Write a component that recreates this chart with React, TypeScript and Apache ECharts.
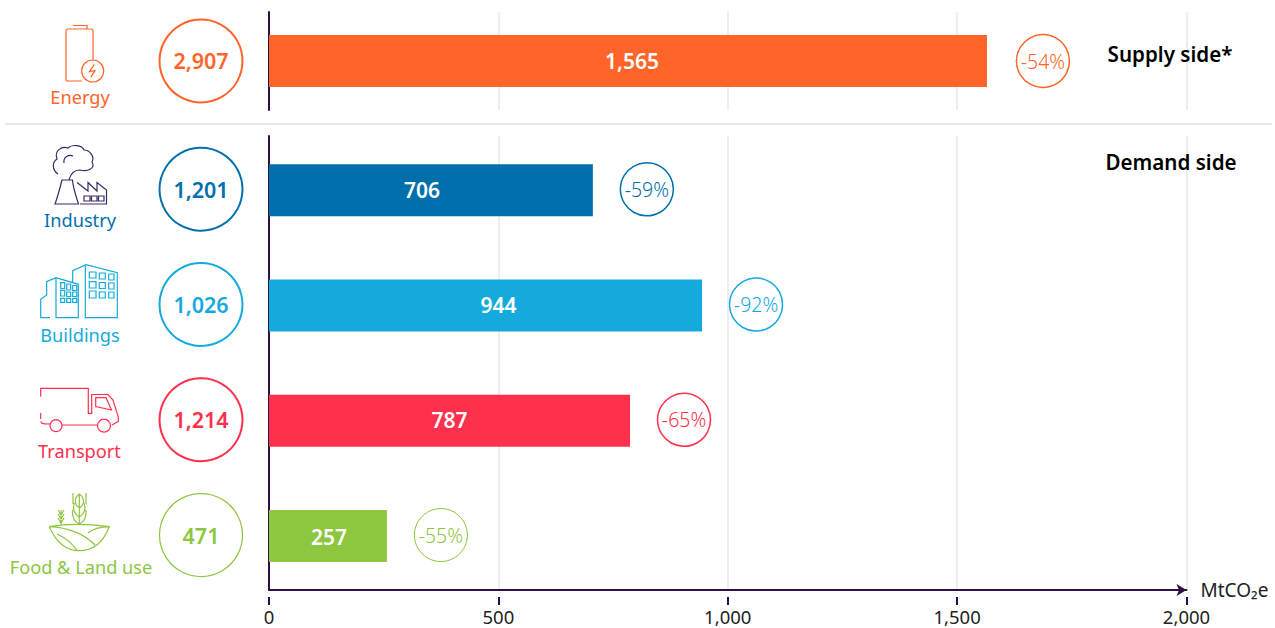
import React, { useEffect, useRef } from "react";
import * as echarts from "echarts";

const categories = ["Energy", "Industry", "Buildings", "Transport", "Food & Land use"];
const totals = [2907, 1201, 1026, 1214, 471];
const values = [1565, 706, 944, 787, 257];
const reductions = ["-54%", "-59%", "-92%", "-65%", "-55%"];
const palette = ["#FF6428", "#0070AD", "#14ABDC", "#FF304C", "#8DC63F"];
const xTicks = { min: 0, max: 2000, interval: 500 };
const unit = "MtCO₂e";
const sections = ["Supply side*", "Demand side"];

const FONT = "Noto Sans";
const DARK = "#2E1046";
const GRID = "#EEEEEE";

const barLabelShift = [[4, 0], [-9, 0], [13, -1], [0, -1], [1, 1]];
const pctShift = [56, 54, 54, 54, 54];
const nameShift = [36, 30, 29, 30, 31];
const nameX = [-189, -189, -189, -189.5, -188];
const circleLift = [0, -1, -1, -1, -1];

const icons: Record<string, string> = {
  battery:
    "M93 60.5V31Q93 29 91 29H68Q66 29 66 31V79Q66 81 68 81H82M73 25.5H87V29M81.7 71a11 11 0 1 0 22 0a11 11 0 1 0 -22 0M94.3 64.3L89.3 71.7L95 70.7L90.7 77.3",
  factory:
    "M58 174C52 170 52 162 57 159C54 150 62 146 68 148C72 144 82 145 84 150C90 150 95 157 92 162C96 168 88 172 80 170C76 170 71 172 69 180M64 163C63 157 69 154 73 156M55 204C58 196 60 188 62 180H72.5C73 188 76 196 78.5 204ZM80 204H106.5V190L97 182.5V191L88 182.5V191L77 182.5M84 196H90V201H84ZM91.5 196H97V201H91.5ZM98.5 196H104V201H98.5Z",
  buildings:
    "M50 317.7H40.7V299.3L46.7 295V281.7L56 277.7L78.3 284.3V317.7H56V277.7M72.7 283.3V270.7L86 264.7L117.3 272.7V317.7H85.3V264.7M89.3 272H96V278H89.3ZM99.3 273H105.3V279H99.3ZM108.7 274H114V280H108.7ZM89.3 281.7H96V288H89.3ZM99.3 282.5H105.3V288.5H99.3ZM108.7 283H114V289H108.7ZM89.3 291H96V298H89.3ZM99.3 292H105.3V298H99.3ZM108.7 292H114V298H108.7ZM60.7 282.7H64.7V288.7H60.7ZM66.7 284H70.7V290H66.7ZM72.7 285.5H76.7V290.5H72.7ZM60.7 290.5H64.7V296H60.7ZM66.7 292H70.7V296.5H66.7ZM72.7 292H76.7V296.5H72.7ZM60.7 298.3H64.7V302.3H60.7ZM66.7 298.3H70.7V302.3H66.7ZM72.7 298.3H76.7V302.3H72.7Z",
  truck:
    "M40.7 396.7V388.3H88.3V413.3H91.7V394.5H108L113 400L118.3 417V421.5L112 425M95.7 397.7H106L111.5 410L95.7 406.5ZM40.7 413V419M40.7 421.5C41.5 424 44 424 50 424M62 425H98M50 425.7a6 6 0 1 0 12 0a6 6 0 1 0 -12 0M97.5 425.7a6.5 6.5 0 1 0 13 0a6.5 6.5 0 1 0 -13 0",
  plant:
    "M49.3 526.7Q60 550.7 79 550.7Q100 550.7 109.3 526.7Q75 522 49.3 526.7Q78 528 95 545M57 534Q70 540 77 550.5M88 533Q95 527 109.3 526.7M79.3 524V494M79.3 508C74 504 74 498 79.3 494C85 498 85 504 79.3 508M79.3 517C73 513 73 507 74.5 503M79.3 517C85.5 513 85.5 507 84 503M79.3 524C73 521 72 515 72.5 510M79.3 524C85.5 521 86.5 515 86 510M73 493V504M86 493V504M61 525V510M58 510L61 515L64 510M58 514L61 519L64 514M58 518L61 523L64 518",
};
Object.keys(icons).forEach((k) => {
  echarts.graphic.registerShape("icon-" + k, echarts.graphic.extendPath(icons[k], {}));
});
const iconRows = [
  ["battery", palette[0]],
  ["factory", "#3A2A66"],
  ["buildings", palette[2]],
  ["truck", palette[3]],
  ["plant", palette[4]],
];

function rowSeries(xAxisIndex: number, yAxisIndex: number, idx: number[]) {
  const base = { xAxisIndex, yAxisIndex };
  return [
    {
      ...base,
      type: "bar",
      barWidth: 52,
      data: idx.map((i) => ({
        value: values[i],
        itemStyle: { color: palette[i] },
        label: { offset: barLabelShift[i] },
      })),
      label: {
        show: true,
        position: "inside",
        color: "#fff",
        fontFamily: FONT,
        fontWeight: 600,
        fontSize: 21,
        formatter: (p: any) => p.value.toLocaleString("en-US"),
      },
    },
    {
      ...base,
      type: "scatter",
      clip: false,
      symbolSize: 53,
      z: 3,
      data: idx.map((i, k) => ({
        value: [values[i], k],
        symbolOffset: [pctShift[i], circleLift[i]],
        itemStyle: { opacity: 1, color: "#fff", borderColor: palette[i], borderWidth: i === 4 ? 1 : 1.5 },
        label: { color: palette[i], formatter: reductions[i] },
      })),
      label: { show: true, position: "inside", fontFamily: FONT, fontWeight: 300, fontSize: 19.5, opacity: 1 },
    },
    {
      ...base,
      type: "scatter",
      clip: false,
      symbolSize: 83,
      z: 3,
      data: idx.map((i, k) => ({
        value: [0, k],
        symbolOffset: [-68, circleLift[i]],
        itemStyle: { opacity: 1, color: "#fff", borderColor: palette[i], borderWidth: i === 4 ? 1.2 : 2 },
        label: { color: palette[i], formatter: totals[i].toLocaleString("en-US"), offset: [0, i === 0 ? -1 : 0] },
      })),
      label: { show: true, position: "inside", fontFamily: FONT, fontWeight: 600, fontSize: 21.5, opacity: 1 },
    },
    {
      ...base,
      type: "scatter",
      clip: false,
      symbolSize: 1,
      z: 3,
      data: idx.map((i, k) => ({
        value: [0, k],
        itemStyle: { color: "transparent" },
        label: { color: palette[i], formatter: categories[i], offset: [nameX[i], nameShift[i]] },
      })),
      label: { show: true, position: "inside", fontFamily: FONT, fontSize: 18.2, opacity: 1 },
    },
  ];
}

const LEFT = 269;
const WIDTH = 917.5;

export default function App() {
  const ref = useRef<HTMLDivElement>(null);
  useEffect(() => {
    const chart = echarts.init(ref.current!, undefined, { renderer: "svg" });
    const hiddenX = { type: "value", ...xTicks, axisLine: { show: false }, axisTick: { show: false }, axisLabel: { show: false } };
    const split = { show: true, lineStyle: { color: GRID, width: 2 }, showMinLine: false };
    const yLine = { show: true, lineStyle: { color: DARK, width: 2 } };
    chart.setOption({
      animation: false,
      grid: [
        { left: LEFT, width: WIDTH, top: 12, height: 98 },
        { left: LEFT, width: WIDTH, top: 136, height: 454 },
        { left: LEFT, width: WIDTH, top: 132.67, height: 461 },
      ],
      xAxis: [
        { ...hiddenX, gridIndex: 0, splitLine: split },
        {
          ...hiddenX,
          gridIndex: 1,
          splitLine: split,
          axisLine: { show: true, onZero: false, symbol: ["none", "arrow"], symbolSize: [9, 10], lineStyle: { color: DARK, width: 2 } },
          name: unit,
          nameLocation: "end",
          nameGap: 14,
          nameTextStyle: { fontFamily: FONT, fontSize: 19, color: "#222" },
        },
        {
          type: "value",
          ...xTicks,
          gridIndex: 1,
          position: "bottom",
          offset: 7,
          axisLine: { show: false, onZero: false },
          axisTick: { show: true, length: 8, lineStyle: { color: DARK, width: 2 } },
          axisLabel: { fontFamily: FONT, fontSize: 18.5, color: "#222", margin: 10, formatter: (v: number) => v.toLocaleString("en-US") },
          splitLine: { show: false },
        },
        { ...hiddenX, gridIndex: 2, splitLine: { show: false } },
      ],
      yAxis: [
        { type: "category", gridIndex: 0, data: categories.slice(0, 1), axisLine: yLine, axisTick: { show: false }, axisLabel: { show: false } },
        { type: "category", gridIndex: 1, data: [""], axisLine: yLine, axisTick: { show: false }, axisLabel: { show: false } },
        { type: "category", gridIndex: 2, inverse: true, data: categories.slice(1), axisLine: { show: false }, axisTick: { show: false }, axisLabel: { show: false } },
      ],
      series: [...rowSeries(0, 0, [0]), ...rowSeries(3, 2, [1, 2, 3, 4])],
      graphic: [
        { type: "line", shape: { x1: 5, y1: 124, x2: 1272, y2: 124 }, style: { stroke: "#E9E9E9", lineWidth: 2 } },
        ...iconRows.map(([k, c]) => ({ type: "icon-" + k, x: 0, y: 0, style: { fill: "none", stroke: c, lineWidth: 1.2 } })),
        { type: "text", z: 10, x: 1170, y: 54, style: { text: sections[0], fill: "#000", font: `600 20.6px "${FONT}"`, textAlign: "center", textVerticalAlign: "middle" } },
        { type: "text", z: 10, x: 1171, y: 162, style: { text: sections[1], fill: "#000", font: `600 20.6px "${FONT}"`, textAlign: "center", textVerticalAlign: "middle" } },
      ],
    });
    return () => chart.dispose();
  }, []);
  return <div ref={ref} style={{ position: "fixed", left: 0, top: 0, width: 1275, height: 628, background: "#fff" }} />;
}
